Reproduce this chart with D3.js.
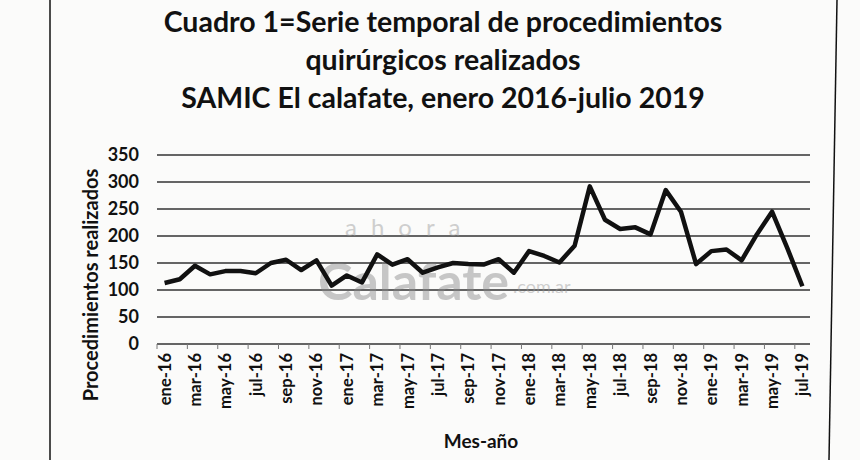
<!DOCTYPE html>
<html>
<head>
<meta charset="utf-8">
<script src="https://cdn.jsdelivr.net/npm/d3@7"></script>
<style>
  body { margin: 0; background: #fbfbfa; }
  svg { font-family: Lato, "Open Sans", sans-serif; }
</style>
</head>
<body>
<svg id="chart" width="860" height="460"></svg>
<script>
var mesNombres = ["ene", "feb", "mar", "abr", "may", "jun", "jul", "ago", "sep", "oct", "nov", "dic"];
var anios = ["16", "17", "18", "19"];

var procedimientos = [
  113, 120, 145, 129, 135, 135, 131, 150, 156, 137, 155, 108,
  127, 114, 166, 147, 157, 132, 142, 150, 148, 147, 157, 132,
  172, 163, 151, 182, 292, 230, 213, 216, 203, 285, 245, 148,
  172, 175, 155, 203, 245, 178, 107
];

var yTicks = [0, 50, 100, 150, 200, 250, 300, 350];

var titulo = [
  "Cuadro 1=Serie temporal de procedimientos",
  "quirúrgicos realizados",
  "SAMIC El calafate, enero 2016-julio 2019"
];

// build month labels ene-16 ... jul-19
var meses = [];
anios.forEach(function (a) {
  mesNombres.forEach(function (m) {
    if (meses.length < procedimientos.length) meses.push(m + "-" + a);
  });
});

var data = meses.map(function (m, i) {
  return { mes: m, valor: procedimientos[i] };
});

var svg = d3.select("#chart");

// frame lines of the scanned page
svg.append("line").attr("x1", 50).attr("x2", 50).attr("y1", 0).attr("y2", 460)
  .attr("stroke", "#111").attr("stroke-width", 1.5);
svg.append("line").attr("x1", 837).attr("x2", 829).attr("y1", 0).attr("y2", 460)
  .attr("stroke", "#111").attr("stroke-width", 1.5);

var x = d3.scaleBand()
  .domain(meses)
  .range([157, 810]);

var y = d3.scaleLinear()
  .domain([0, 350])
  .range([344, 155]);

// title
svg.append("g")
  .selectAll("text")
  .data(titulo)
  .enter()
  .append("text")
  .attr("x", 443)
  .attr("y", function (d, i) { return 32 + i * 38; })
  .attr("text-anchor", "middle")
  .attr("font-size", 28.5)
  .attr("font-weight", "bold")
  .attr("fill", "#111")
  .text(function (d) { return d; });

// gridlines
svg.append("g")
  .selectAll("line")
  .data(yTicks)
  .enter()
  .append("line")
  .attr("x1", 157)
  .attr("x2", 810)
  .attr("y1", function (d) { return y(d); })
  .attr("y2", function (d) { return y(d); })
  .attr("stroke", "#333")
  .attr("stroke-width", 1.6);

// y axis labels
svg.append("g")
  .selectAll("text")
  .data(yTicks)
  .enter()
  .append("text")
  .attr("x", 139)
  .attr("y", function (d) { return y(d) + 6; })
  .attr("text-anchor", "end")
  .attr("font-size", 18)
  .attr("font-weight", "bold")
  .attr("fill", "#111")
  .text(function (d) { return d; });

// x axis ticks at every second category boundary
var tickMeses = meses.filter(function (d, i) { return i % 2 === 0; });

svg.append("g")
  .selectAll("line")
  .data(tickMeses)
  .enter()
  .append("line")
  .attr("x1", function (d) { return x(d); })
  .attr("x2", function (d) { return x(d); })
  .attr("y1", y(0))
  .attr("y2", y(0) + 5)
  .attr("stroke", "#777")
  .attr("stroke-width", 1);

svg.append("g")
  .selectAll("text")
  .data(tickMeses)
  .enter()
  .append("text")
  .attr("transform", function (d) {
    return "translate(" + (x(d) + x.bandwidth() / 2 + 6) + "," + (y(0) + 9) + ") rotate(-90)";
  })
  .attr("text-anchor", "end")
  .attr("font-size", 16.5)
  .attr("font-weight", "bold")
  .attr("fill", "#111")
  .text(function (d) { return d; });

// axis titles
svg.append("text")
  .attr("x", 481)
  .attr("y", 448)
  .attr("text-anchor", "middle")
  .attr("font-size", 19)
  .attr("font-weight", "bold")
  .attr("fill", "#111")
  .text("Mes-año");

svg.append("text")
  .attr("transform", "translate(98,285) rotate(-90)")
  .attr("text-anchor", "middle")
  .attr("font-size", 20)
  .attr("font-weight", "bold")
  .attr("fill", "#111")
  .text("Procedimientos realizados");

// watermark
var wm = svg.append("g").attr("opacity", 0.45);
wm.append("text")
  .attr("x", 345).attr("y", 236)
  .attr("font-size", 24).attr("fill", "#999")
  .attr("letter-spacing", 14)
  .text("ahora");
wm.append("text")
  .attr("x", 318).attr("y", 300)
  .attr("font-size", 52).attr("font-weight", "bold").attr("fill", "#888")
  .text("Calafate");
wm.append("text")
  .attr("x", 513).attr("y", 293)
  .attr("font-size", 18).attr("fill", "#999")
  .text(".com.ar");

// series line
var line = d3.line()
  .x(function (d) { return x(d.mes) + x.bandwidth() / 2; })
  .y(function (d) { return y(d.valor); });

svg.append("path")
  .datum(data)
  .attr("d", line)
  .attr("fill", "none")
  .attr("stroke", "#111")
  .attr("stroke-width", 4.5)
  .attr("stroke-linejoin", "round");
</script>
</body>
</html>
